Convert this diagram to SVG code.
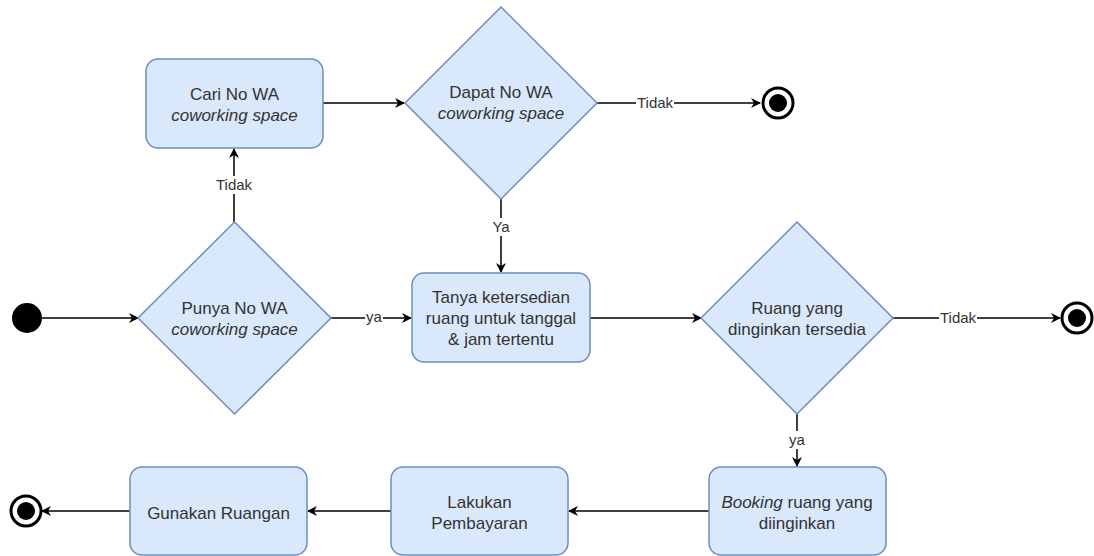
<svg xmlns="http://www.w3.org/2000/svg" width="1094" height="556" viewBox="0 0 1094 556">
<style>
.box{fill:#dae8fc;stroke:#6c8ebf;stroke-width:1.5}
.t{font-family:"Liberation Sans",Arial,sans-serif;font-size:17px;fill:#333;text-anchor:middle}
.i{font-style:italic}
.e{fill:none;stroke:#000;stroke-width:1.5}
.lb{font-family:"Liberation Sans",Arial,sans-serif;font-size:15px;fill:#333;text-anchor:middle}
.lbg{fill:#fff}
</style>
<defs>
<marker id="a" viewBox="0 0 10 10" refX="9" refY="5" markerWidth="10" markerHeight="10" markerUnits="userSpaceOnUse" orient="auto">
<path d="M0,0 L10,5 L0,10 L3,5 z" fill="#000"/>
</marker>
</defs>
<g id="connectors">
<line class="e" x1="42" y1="318" x2="138" y2="318" marker-end="url(#a)"/>
<line class="e" x1="331" y1="318" x2="411" y2="318" marker-end="url(#a)"/>
<line class="e" x1="234" y1="222" x2="234" y2="149" marker-end="url(#a)"/>
<line class="e" x1="323" y1="103" x2="404" y2="103" marker-end="url(#a)"/>
<line class="e" x1="597" y1="103" x2="760" y2="103" marker-end="url(#a)"/>
<line class="e" x1="501" y1="199" x2="501" y2="272" marker-end="url(#a)"/>
<line class="e" x1="590" y1="318" x2="701" y2="318" marker-end="url(#a)"/>
<line class="e" x1="893" y1="318" x2="1060" y2="318" marker-end="url(#a)"/>
<line class="e" x1="797" y1="413" x2="797" y2="466" marker-end="url(#a)"/>
<line class="e" x1="709" y1="511" x2="569" y2="511" marker-end="url(#a)"/>
<line class="e" x1="391" y1="511" x2="308" y2="511" marker-end="url(#a)"/>
<line class="e" x1="130" y1="511" x2="42" y2="511" marker-end="url(#a)"/>
<rect class="lbg" x="215" y="176" width="38" height="18"/>
<text class="lb" x="234" y="190">Tidak</text>
<rect class="lbg" x="491" y="218" width="20" height="18"/>
<text class="lb" x="501" y="232">Ya</text>
<rect class="lbg" x="365" y="309" width="18" height="18"/>
<text class="lb" x="374" y="322">ya</text>
<rect class="lbg" x="636" y="94" width="38" height="18"/>
<text class="lb" x="655" y="108">Tidak</text>
<rect class="lbg" x="939" y="309" width="38" height="18"/>
<text class="lb" x="958" y="323">Tidak</text>
<rect class="lbg" x="788" y="431" width="18" height="18"/>
<text class="lb" x="797" y="445">ya</text>
</g>
<g id="start"><circle cx="27" cy="318" r="15" fill="#000"/></g>
<g id="cari"><rect class="box" x="146" y="59" width="177" height="89" rx="12"/>
<text class="t" x="234.5" y="100">Cari No WA</text><text class="t i" x="234.5" y="121">coworking space</text></g>
<g id="dapat"><polygon class="box" points="501,7 597,103 501,199 405,103"/>
<text class="t" x="501" y="98">Dapat No WA</text><text class="t i" x="501" y="119">coworking space</text></g>
<g id="end1"><circle cx="778" cy="103" r="15" fill="#fff" stroke="#000" stroke-width="3"/><circle cx="778" cy="103" r="9" fill="#000"/></g>
<g id="punya"><polygon class="box" points="234.5,222 331,318 234.5,414 138,318"/>
<text class="t" x="234.5" y="314">Punya No WA</text><text class="t i" x="234.5" y="335">coworking space</text></g>
<g id="tanya"><rect class="box" x="412" y="273" width="178" height="89" rx="12"/>
<text class="t" x="501" y="303">Tanya ketersedian</text><text class="t" x="501" y="324">ruang untuk tanggal</text><text class="t" x="501" y="345">&amp; jam tertentu</text></g>
<g id="ruang"><polygon class="box" points="797,222 893,318 797,414 701,318"/>
<text class="t" x="797" y="314">Ruang yang</text><text class="t" x="797" y="335">dinginkan tersedia</text></g>
<g id="end2"><circle cx="1077" cy="318" r="15" fill="#fff" stroke="#000" stroke-width="3"/><circle cx="1077" cy="318" r="9" fill="#000"/></g>
<g id="booking"><rect class="box" x="709" y="467" width="177" height="88" rx="12"/>
<text class="t" x="797" y="508"><tspan class="i">Booking</tspan> ruang yang</text><text class="t" x="797" y="529">diinginkan</text></g>
<g id="lakukan"><rect class="box" x="391" y="467" width="177" height="88" rx="12"/>
<text class="t" x="479.5" y="508">Lakukan</text><text class="t" x="479.5" y="529">Pembayaran</text></g>
<g id="gunakan"><rect class="box" x="130" y="467" width="177" height="88" rx="12"/>
<text class="t" x="218.5" y="519">Gunakan Ruangan</text></g>
<g id="end3"><circle cx="26" cy="511" r="15" fill="#fff" stroke="#000" stroke-width="3"/><circle cx="26" cy="511" r="9" fill="#000"/></g>
</svg>
